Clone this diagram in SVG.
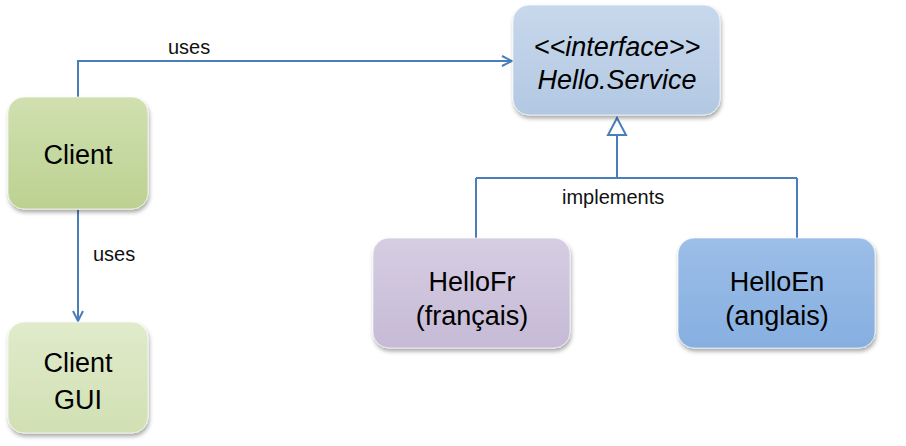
<svg xmlns="http://www.w3.org/2000/svg" width="906" height="446" viewBox="0 0 906 446">
<style>
.lbl{font-family:"Liberation Sans",Arial,sans-serif;font-size:20px;fill:#111}
.nt{font-family:"Liberation Sans",Arial,sans-serif;font-size:27px;fill:#000;text-anchor:middle}
.it{font-style:italic}
.box{stroke:#ffffff;stroke-opacity:0.6;stroke-width:1}
.con{fill:none;stroke:#4a7ebb;stroke-width:2}
</style>
<defs>
<filter id="sh" x="-10%" y="-10%" width="130%" height="140%">
<feDropShadow dx="1" dy="3" stdDeviation="2" flood-color="#000" flood-opacity="0.35"/>
</filter>
<linearGradient id="gC" x1="0" y1="0" x2="0" y2="1"><stop offset="0" stop-color="#d0e0b0"/><stop offset="1" stop-color="#bcd191"/></linearGradient>
<linearGradient id="gG" x1="0" y1="0" x2="0" y2="1"><stop offset="0" stop-color="#e0ebcb"/><stop offset="1" stop-color="#d1e0b3"/></linearGradient>
<linearGradient id="gI" x1="0" y1="0" x2="0" y2="1"><stop offset="0" stop-color="#c8d8ec"/><stop offset="1" stop-color="#b2c8e2"/></linearGradient>
<linearGradient id="gF" x1="0" y1="0" x2="0" y2="1"><stop offset="0" stop-color="#d6cde2"/><stop offset="1" stop-color="#c6bad6"/></linearGradient>
<linearGradient id="gE" x1="0" y1="0" x2="0" y2="1"><stop offset="0" stop-color="#9cbee8"/><stop offset="1" stop-color="#86afe0"/></linearGradient>
<marker id="open" viewBox="0 0 12 12" refX="11" refY="6" markerWidth="12" markerHeight="12" markerUnits="userSpaceOnUse" orient="auto">
<path d="M1,1 L11,6 L1,11" fill="none" stroke="#4a7ebb" stroke-width="2"/>
</marker>
</defs>
<g id="connectors">
<path class="con" d="M78,97 V61 H512" marker-end="url(#open)"/>
<path class="con" d="M78,210 V321" marker-end="url(#open)"/>
<path class="con" d="M617,135 V178 M476,178 H797 M476,178 V238 M797,178 V238"/>
<path d="M617,118 L626,135 L608,135 Z" fill="#ffffff" stroke="#4a7ebb" stroke-width="2"/>
<text class="lbl" x="168" y="54">uses</text>
<text class="lbl" x="93" y="261">uses</text>
<text class="lbl" x="562" y="204">implements</text>
</g>
<g id="client">
<rect class="box" x="8" y="97" width="140" height="112" rx="16" fill="url(#gC)" filter="url(#sh)"/>
<text class="nt" x="78" y="164">Client</text>
</g>
<g id="clientgui">
<rect class="box" x="8" y="322" width="140" height="111" rx="16" fill="url(#gG)" filter="url(#sh)"/>
<text class="nt" x="78" y="372">Client</text>
<text class="nt" x="78" y="409">GUI</text>
</g>
<g id="interface">
<rect class="box" x="513" y="5" width="207" height="110" rx="16" fill="url(#gI)" filter="url(#sh)"/>
<text class="nt it" x="617" y="56">&lt;&lt;interface&gt;&gt;</text>
<text class="nt it" x="617" y="89">Hello.Service</text>
</g>
<g id="hellofr">
<rect class="box" x="373" y="238" width="197" height="110" rx="16" fill="url(#gF)" filter="url(#sh)"/>
<text class="nt" x="472" y="291">HelloFr</text>
<text class="nt" x="472" y="325">(français)</text>
</g>
<g id="helloen">
<rect class="box" x="678" y="238" width="197" height="110" rx="16" fill="url(#gE)" filter="url(#sh)"/>
<text class="nt" x="777" y="291">HelloEn</text>
<text class="nt" x="777" y="325">(anglais)</text>
</g>
</svg>
